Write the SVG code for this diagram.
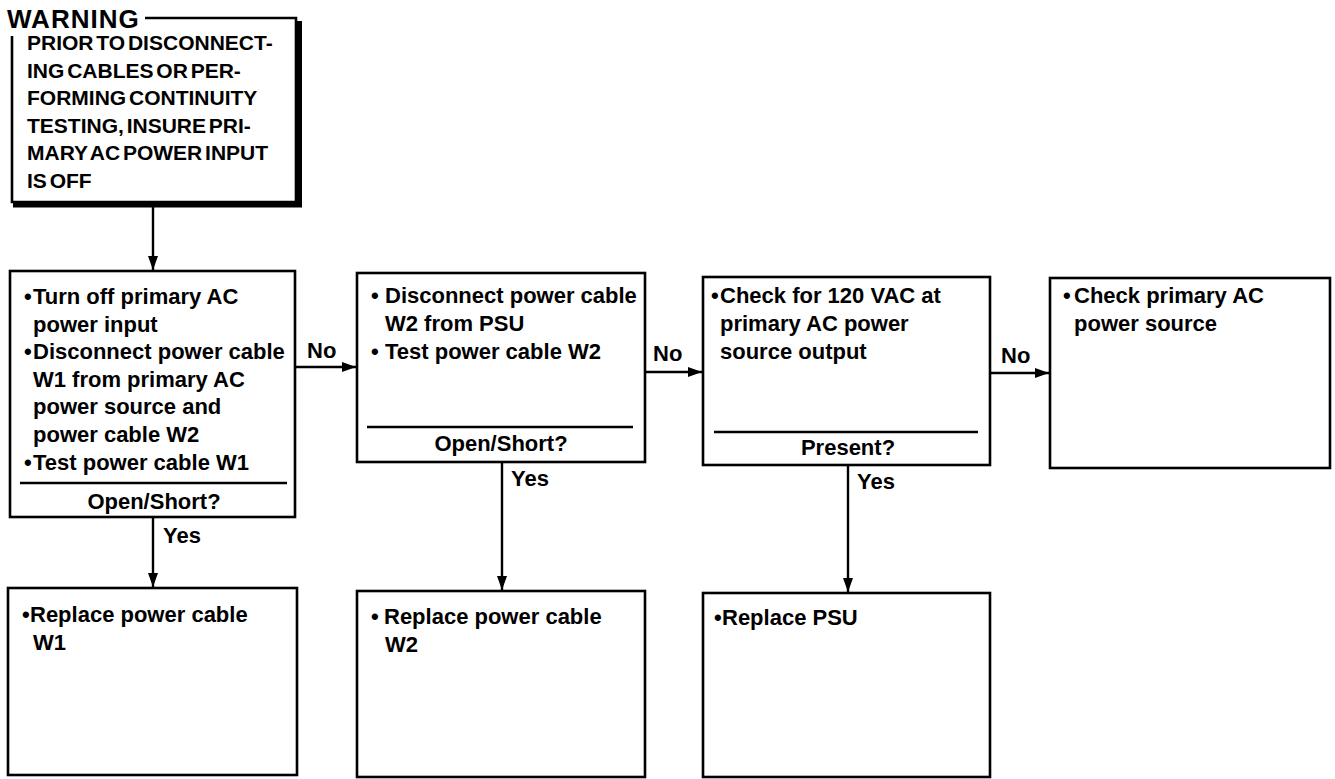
<svg xmlns="http://www.w3.org/2000/svg" width="1335" height="779" viewBox="0 0 1335 779">
<defs>
<marker id="ah" viewBox="0 0 14 10" refX="14" refY="5" markerWidth="14" markerHeight="10" markerUnits="userSpaceOnUse" orient="auto">
<path d="M0,0 L14,5 L0,10 Z" fill="#000"/>
</marker>
<style>
.box{fill:#fff;stroke:#000;stroke-width:2.6}
.div{stroke:#000;stroke-width:2.4}
.t{font-family:"Liberation Sans",Arial,sans-serif;font-weight:bold;font-size:22px;fill:#000}
.w{font-family:"Liberation Sans",Arial,sans-serif;font-weight:bold;font-size:21px;fill:#000;word-spacing:-3px}
.c{text-anchor:middle}
.conn{stroke:#000;stroke-width:2.4;fill:none}
</style>
</defs>
<rect width="1335" height="779" fill="#fff"/>

<g id="warning">
<path d="M299.5,21 V205 H13" fill="none" stroke="#000" stroke-width="5"/>
<path d="M145,18 H296 V202 H12 V36" fill="none" stroke="#000" stroke-width="2.6"/>
<text x="7" y="28" font-family="'Liberation Sans',Arial,sans-serif" font-weight="bold" font-size="26" letter-spacing="1" fill="#000">WARNING</text>
<text class="w" x="27" y="50">PRIOR TO DISCONNECT-</text>
<text class="w" x="27" y="78">ING CABLES OR PER-</text>
<text class="w" x="27" y="105">FORMING CONTINUITY</text>
<text class="w" x="27" y="133">TESTING, INSURE PRI-</text>
<text class="w" x="27" y="160">MARY AC POWER INPUT</text>
<text class="w" x="27" y="188">IS OFF</text>
</g>

<g id="box1">
<rect class="box" x="10" y="271" width="285" height="246"/>
<text class="t"><tspan x="24" y="304">•</tspan><tspan x="33" y="304">Turn off primary AC</tspan></text>
<text class="t" x="33" y="332">power input</text>
<text class="t"><tspan x="24" y="359">•</tspan><tspan x="33" y="359">Disconnect power cable</tspan></text>
<text class="t" x="33" y="387">W1 from primary AC</text>
<text class="t" x="33" y="414">power source and</text>
<text class="t" x="33" y="442">power cable W2</text>
<text class="t"><tspan x="24" y="470">•</tspan><tspan x="33" y="470">Test power cable W1</tspan></text>
<line class="div" x1="20" y1="483" x2="287" y2="483"/>
<text class="t c" x="154" y="509">Open/Short?</text>
</g>

<g id="box2">
<rect class="box" x="357" y="273" width="288" height="189"/>
<text class="t"><tspan x="371" y="303">•</tspan><tspan x="385" y="303">Disconnect power cable</tspan></text>
<text class="t" x="385" y="331">W2 from PSU</text>
<text class="t"><tspan x="371" y="359">•</tspan><tspan x="385" y="359">Test power cable W2</tspan></text>
<line class="div" x1="367" y1="427" x2="633" y2="427"/>
<text class="t c" x="501" y="451">Open/Short?</text>
</g>

<g id="box3">
<rect class="box" x="703" y="277" width="287" height="188"/>
<text class="t"><tspan x="711" y="303">•</tspan><tspan x="720" y="303">Check for 120 VAC at</tspan></text>
<text class="t" x="720" y="331">primary AC power</text>
<text class="t" x="720" y="359">source output</text>
<line class="div" x1="714" y1="432" x2="978" y2="432"/>
<text class="t c" x="848" y="455">Present?</text>
</g>

<g id="box4">
<rect class="box" x="1050" y="278" width="280" height="190"/>
<text class="t"><tspan x="1063" y="303">•</tspan><tspan x="1074" y="303">Check primary AC</tspan></text>
<text class="t" x="1074" y="331">power source</text>
</g>

<g id="box5">
<rect class="box" x="8" y="588" width="289" height="187"/>
<text class="t"><tspan x="22" y="622">•</tspan><tspan x="30" y="622">Replace power cable</tspan></text>
<text class="t" x="33" y="650">W1</text>
</g>

<g id="box6">
<rect class="box" x="357" y="591" width="288" height="186"/>
<text class="t"><tspan x="371" y="624">•</tspan><tspan x="384" y="624">Replace power cable</tspan></text>
<text class="t" x="385" y="652">W2</text>
</g>

<g id="box7">
<rect class="box" x="703" y="593" width="287" height="184"/>
<text class="t"><tspan x="714" y="625">•</tspan><tspan x="722" y="625">Replace PSU</tspan></text>
</g>

<g id="connectors">
<line class="conn" x1="153" y1="207" x2="153" y2="270" marker-end="url(#ah)"/>
<line class="conn" x1="295" y1="367" x2="356" y2="367" marker-end="url(#ah)"/>
<line class="conn" x1="645" y1="372" x2="702" y2="372" marker-end="url(#ah)"/>
<line class="conn" x1="990" y1="373" x2="1049" y2="373" marker-end="url(#ah)"/>
<line class="conn" x1="153" y1="517" x2="153" y2="587" marker-end="url(#ah)"/>
<line class="conn" x1="502" y1="462" x2="502" y2="590" marker-end="url(#ah)"/>
<line class="conn" x1="848" y1="465" x2="848" y2="592" marker-end="url(#ah)"/>
<text class="t" x="307" y="358">No</text>
<text class="t" x="653" y="361">No</text>
<text class="t" x="1001" y="363">No</text>
<text class="t" x="163" y="543">Yes</text>
<text class="t" x="511" y="486">Yes</text>
<text class="t" x="857" y="489">Yes</text>
</g>
</svg>
